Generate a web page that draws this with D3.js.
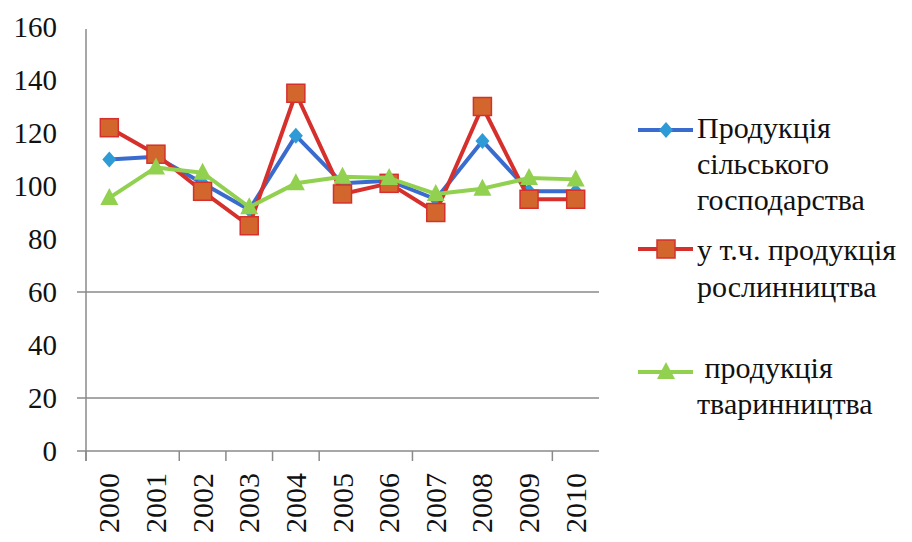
<!DOCTYPE html>
<html><head><meta charset="utf-8">
<script src="https://cdn.jsdelivr.net/npm/d3@7"></script>
<style>body{margin:0;background:#fff}svg{display:block}</style>
</head><body><svg id="c" width="912" height="542"></svg>
<script>
const years = ["2000","2001","2002","2003","2004","2005","2006","2007","2008","2009","2010"];
const agri  = [110,111,101,91,119,101,102,95,117,98,98];
const crops = [122,112,98,85,135,97,101,90,130,95,95];
const livestock = [95.5,107,105,92,101,103.5,103,97,99,103,102.5];
const yTicks = [0,20,40,60,80,100,120,140,160];
const gridValues = [20,60];
const tickBoundaries = [0,2,3,4,5,7,10];
const legendLabels = [["Продукція","сільського","господарства"],["у т.ч. продукція","рослинництва"],[" продукція","тваринництва"]];

const FONT = "'Liberation Serif','Times New Roman','DejaVu Serif',Times,serif";
const svg = d3.select("#c");
const L=86, R=599, T=27, B=451;
const x = d3.scaleBand().domain(years).range([L,R]);
const y = d3.scaleLinear().domain([0,160]).range([B,T]);
const axisColor="#8a8a8a";

svg.append("g").selectAll("line").data(gridValues).join("line")
  .attr("x1",77).attr("x2",R).attr("y1",d=>y(d)).attr("y2",d=>y(d))
  .attr("stroke",axisColor).attr("stroke-width",1.5);
svg.append("line").attr("x1",L).attr("x2",L).attr("y1",29).attr("y2",B+10).attr("stroke",axisColor).attr("stroke-width",1.5);
svg.append("line").attr("x1",77).attr("x2",R).attr("y1",B).attr("y2",B).attr("stroke",axisColor).attr("stroke-width",1.5);
svg.append("g").selectAll("line").data(tickBoundaries).join("line")
  .attr("x1",d=>L+d*x.step()).attr("x2",d=>L+d*x.step()).attr("y1",B).attr("y2",B+10)
  .attr("stroke",axisColor).attr("stroke-width",1.5);
svg.append("g").selectAll("text").data(yTicks).join("text")
  .attr("x",57).attr("y",d=>y(d)+10).attr("text-anchor","end")
  .attr("font-family",FONT).attr("font-size",29).attr("fill","#111").text(d=>d);
svg.append("g").selectAll("text").data(years).join("text")
  .attr("transform",d=>`translate(${x(d)+x.bandwidth()/2+10},473) rotate(-90)`)
  .attr("text-anchor","end").attr("font-family",FONT).attr("font-size",30).attr("fill","#111").text(d=>d);

const series = [
  {vals:agri, line:"#3a6cd0", fill:"#2e9bd6", stroke:"#2e9bd6", shape:"diamond"},
  {vals:crops, line:"#d6302c", fill:"#d2662c", stroke:"#d6302c", shape:"square"},
  {vals:livestock, line:"#92d050", fill:"#92d050", stroke:"#92d050", shape:"triangle"}
];
function marker(g, shape, fill, stroke){
  if(shape==="diamond") g.append("path").attr("d","M0,-8L7,0L0,8L-7,0Z").attr("fill",fill);
  else if(shape==="square") g.append("rect").attr("x",-9).attr("y",-9).attr("width",18).attr("height",18).attr("fill",fill).attr("stroke",stroke).attr("stroke-width",1.5);
  else g.append("path").attr("d","M0,-10L9,7L-9,7Z").attr("fill",fill);
}
const line = d3.line().x((d,i)=>x(years[i])+x.bandwidth()/2).y(d=>y(d));
series.forEach(s=>{
  svg.append("path").attr("d",line(s.vals)).attr("fill","none").attr("stroke",s.line).attr("stroke-width",4).attr("stroke-linejoin","round");
  s.vals.forEach((v,i)=>{
    const g=svg.append("g").attr("transform",`translate(${x(years[i])+x.bandwidth()/2},${y(v)})`);
    marker(g,s.shape,s.fill,s.stroke);
  });
});

const legY=[130,249,372];
const textPos=[[[697,138],[697,174],[697,210]],[[697,260],[697,297]],[[697,378],[697,414]]];
series.forEach((s,i)=>{
  svg.append("line").attr("x1",638).attr("x2",693).attr("y1",legY[i]).attr("y2",legY[i]).attr("stroke",s.line).attr("stroke-width",4);
  const g=svg.append("g").attr("transform",`translate(666,${legY[i]})`);
  marker(g,s.shape,s.fill,s.stroke);
  legendLabels[i].forEach((t,j)=>{
    svg.append("text").attr("x",textPos[i][j][0]).attr("y",textPos[i][j][1])
      .attr("font-family",FONT).attr("font-size",30).attr("fill","#111")
      .attr("xml:space","preserve").style("white-space","pre").text(t);
  });
});
</script></body></html>
